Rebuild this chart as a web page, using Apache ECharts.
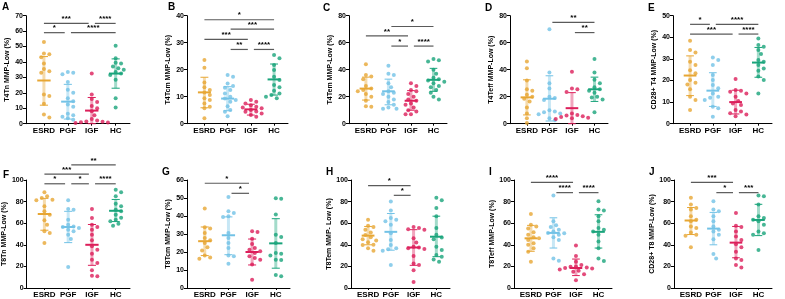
<!DOCTYPE html>
<html>
<head>
<meta charset="utf-8">
<script src="https://cdn.jsdelivr.net/npm/echarts@6/dist/echarts.min.js"></script>
<style>
html, body { margin: 0; padding: 0; background: #fff; }
#chart { width: 785px; height: 299px; }
</style>
</head>
<body>
<div id="chart"></div>
<script>
const groups = ['ESRD', 'PGF', 'IGF', 'HC'];
const colors = ['#E7A633', '#72C2E6', '#DC1E5A', '#19A47B'];

const letters = ['A', 'B', 'C', 'D', 'E', 'F', 'G', 'H', 'I', 'J'];
const yNames = ['T4Tn MMP-Low (%)', 'T4Tcm MMP-Low (%)', 'T4Tem MMP-Low (%)', 'T4Teff MMP-Low (%)', 'CD28+ T4 MMP-Low (%)',
  'T8Tn MMP-Low (%)', 'T8Tcm MMP-Low (%)', 'T8Tem MMP- Low (%)', 'T8Teff MMP-Low (%)', 'CD28+ T8 MMP-Low (%)'];
const yMax = [70, 40, 80, 80, 50, 100, 60, 100, 100, 100];
const yStep = [10, 10, 20, 20, 10, 20, 10, 20, 20, 20];

// points per group: ESRD, PGF, IGF, HC
const ptsA = [
  [53, 45.5, 45, 43, 39, 35.5, 34, 33, 19, 18, 13, 6, 4],
  [33.5, 33, 32, 27, 22, 20, 16.5, 14.5, 12.5, 11, 6.5, 5.5, 4.5, 3.5, 2.5],
  [32.5, 19, 16, 14, 11.5, 10, 8, 5.5, 3, 2, 1.5, 1.2, 1, 0.8, 0.5],
  [50.5, 42.5, 39.5, 39, 37, 36, 35, 33.5, 32.5, 31.5, 28.5, 16.5, 10.5]
];
const ptsB = [
  [23.6, 20.7, 15.3, 13.5, 12.5, 11.6, 10.6, 9.4, 8.8, 7.5, 6.3, 5.7, 2],
  [18, 17.4, 14.9, 14, 13.3, 12.5, 11.2, 10, 9.3, 8.8, 8.1, 6.5, 5.1, 4.4, 2.8],
  [8.8, 8.1, 7.5, 6.8, 6.3, 6, 5.7, 5.1, 4.5, 4.4, 3.8, 3.2, 2.6],
  [25.4, 24.2, 21.7, 19.9, 17.4, 16.2, 14.3, 13.5, 12.2, 11.2, 10.6, 10, 9.4]
];
const ptsC = [
  [44, 36, 35, 33, 28, 26, 25, 24, 22, 20, 17, 13, 12.5],
  [43, 37, 36, 30, 27, 24, 23, 22, 20, 18, 16, 14, 12, 11, 11],
  [30, 28, 25, 24, 22, 20, 18, 17, 15, 14, 12, 10, 9, 7, 7],
  [48, 47, 46, 40, 37, 34, 33, 32, 31, 30, 28, 27, 25, 23, 20, 18]
];
const ptsD = [
  [46, 41, 32, 25.5, 24.5, 21.5, 20, 18.5, 16.5, 12, 7.5, 4, 0.5],
  [70, 38, 30, 26, 20, 19, 17.5, 10, 9, 8.5, 7.5, 7, 4, 2.5],
  [38.5, 26, 25.5, 23.5, 7.5, 6.5, 6, 5.5, 5, 4.5, 4, 3.5],
  [48, 38, 32.5, 30, 27, 25.5, 24.5, 23, 20, 19.5, 18, 8.5]
];
const ptsE = [
  [38.4, 34.1, 33, 28.7, 27.2, 24.8, 23.3, 20.2, 19, 18.2, 15.9, 12.5, 11, 6.3],
  [30.7, 29.5, 27.2, 22.5, 20.2, 17.9, 16.4, 14, 12.5, 12, 11, 7.9, 7.1, 3.2],
  [20.7, 15.6, 15.3, 14.8, 14, 12.5, 10.5, 9.4, 8.6, 6.3, 5.6, 4.8, 4.3, 3.5],
  [39.5, 36.4, 35.6, 34.1, 32.3, 29.5, 28.7, 27.2, 25.6, 24.5, 21.8, 20.2, 14]
];
const ptsF = [
  [88.6, 84.9, 83.3, 81.8, 81.2, 75.6, 71, 67.9, 62.7, 58.6, 52.5, 50.9, 41.7],
  [81.2, 73.1, 72.5, 63.3, 58.6, 57, 56.5, 55.6, 54, 52.5, 49.4, 45.4, 19.4],
  [73.1, 64.8, 58.6, 56.5, 54, 49.4, 44.1, 38.6, 35.5, 31.8, 26.2, 23.1, 16.4, 11.4, 10.8],
  [91, 88.6, 84.9, 78, 75.6, 72.5, 71, 67.9, 65, 63.3, 61.7, 59.6, 57.7]
];
const ptsG = [
  [44.1, 33.7, 33, 30.6, 27.8, 26.5, 25, 22.6, 20.9, 18, 17, 16.3],
  [50.6, 42.6, 41.7, 39.8, 39.4, 30.6, 27.8, 25, 22.2, 18, 17.6, 13.5],
  [31.5, 31.1, 27.4, 24.4, 22.2, 21.3, 20.4, 19.4, 17.6, 16.7, 15.7, 13, 4.6],
  [49.8, 49.6, 40.9, 29.6, 28.3, 25, 19.4, 19, 18, 15.7, 15.6, 7.2, 6.5]
];
const ptsH = [
  [63.2, 57.6, 56.4, 53.9, 51.4, 49, 47, 45.2, 44, 42.4, 40, 39.9, 36.8, 34.6],
  [80.1, 71.7, 64.8, 63.2, 61.7, 58.6, 50.8, 44.5, 39.9, 36.8, 35.8, 34.6, 21.2],
  [56.4, 55.5, 54.5, 53.9, 46.1, 42.1, 38.3, 37.4, 36.8, 36, 29.6, 22.7, 21.2, 16.5, 5.6],
  [83.5, 81.3, 74.1, 66.4, 55.5, 49.2, 46.7, 45.2, 38.3, 35.2, 30.5, 29, 26.5, 24.3]
];
const ptsI = [
  [68.5, 58.6, 57, 55, 51.7, 49.2, 47, 46, 44.5, 41.4, 40, 36.8, 33.6, 24.3],
  [85.7, 61.7, 58, 56.4, 53.9, 52.3, 51, 50.8, 49.2, 47, 44.5, 27.4, 25.2],
  [39.3, 29.6, 24.3, 21.2, 20, 19.6, 19, 18.5, 18.1, 17.1, 15.9, 15, 12.8, 7.2],
  [80.4, 72.6, 71.7, 66.4, 61.7, 55.5, 53.9, 52.3, 49.2, 43, 36.8, 27.4, 24.9]
];
const ptsJ = [
  [83.5, 77.3, 74.1, 72.6, 66.4, 63.2, 61.7, 57, 55.5, 51.4, 49.2, 48.3, 37.7],
  [80.4, 72.6, 71, 66.4, 61.7, 57, 53.9, 52.3, 49.2, 45.2, 31.5, 27.4],
  [69.5, 57.6, 56.4, 52.3, 47.7, 44.5, 40.5, 37.7, 33.6, 27.4, 25.9, 21.2, 19],
  [85.7, 85, 77.3, 66.4, 64.8, 63.2, 61.7, 58.6, 52.3, 50.8, 49.2, 35.2]
];

// mean and SD range (low, high)
const meanA = [28, 14.3, 8.5, 32.5];   const sdA = [[12, 43.5], [3, 25.5], [0, 17], [23, 42]];
const meanB = [11.6, 9.3, 5.3, 16.4];  const sdB = [[5.9, 17.2], [4.8, 13.7], [3.2, 7.2], [10.6, 22.1]];
const meanC = [26, 24, 17, 32.5];      const sdC = [[17.5, 34.5], [14, 33], [10, 24.5], [24, 41]];
const meanD = [19.5, 18.5, 11.5, 25.5]; const sdD = [[6.5, 32.5], [2, 35.5], [0, 23], [16.5, 34.5]];
const meanE = [22.3, 15.3, 10, 28.3];  const sdE = [[13, 31.4], [8, 23.6], [4.5, 15.5], [21.5, 35.3]];
const meanF = [68.5, 56.5, 40, 71.5];  const sdF = [[53.5, 83], [42, 71], [21, 58.8], [61.5, 82]];
const meanG = [26, 29.3, 20, 24.8];    const sdG = [[18, 33.9], [18.5, 39.5], [12.8, 27.2], [11, 38.5]];
const meanH = [48.5, 52, 37.5, 47.5];  const sdH = [[40, 57], [35, 69], [21, 54], [29, 66.5]];
const meanI = [46, 51, 18.5, 52];      const sdI = [[34, 58], [37, 65], [11.5, 26.8], [37, 67.8]];
const meanJ = [62.5, 55, 42, 63];      const sdJ = [[49.5, 74.5], [40, 70], [28, 57], [48.5, 77.5]];

// significance: [from group, to group, y, stars]
const sigA = [[0, 1, 59, '*'], [1, 3, 59, '****'], [0, 2, 65, '***'], [2, 3, 65, '****']];
const sigB = [[0, 3, 38.5, '*'], [1, 3, 35, '***'], [0, 2, 31.2, '***'], [1, 2, 27.5, '**'], [2, 3, 27.5, '****']];
const sigC = [[1, 3, 72, '*'], [0, 2, 65, '**'], [1, 2, 57.5, '*'], [2, 3, 57.5, '****']];
const sigD = [[1, 3, 75, '**'], [2, 3, 67.5, '**']];
const sigE = [[0, 1, 46, '*'], [1, 3, 46, '****'], [0, 2, 41.5, '***'], [2, 3, 41.5, '****']];
const sigF = [[1, 3, 114, '**'], [0, 2, 105.5, '***'], [0, 1, 96.5, '*'], [1, 2, 96.5, '*'], [2, 3, 96.5, '****']];
const sigG = [[0, 2, 58.2, '*'], [1, 2, 52.6, '*']];
const sigH = [[0, 2, 94.7, '*'], [1, 2, 85.8, '*']];
const sigI = [[0, 2, 97.8, '****'], [1, 2, 88.3, '****'], [2, 3, 88.3, '****']];
const sigJ = [[0, 2, 97.8, '***'], [1, 2, 88.3, '*'], [2, 3, 88.3, '***']];

const allPts = [ptsA, ptsB, ptsC, ptsD, ptsE, ptsF, ptsG, ptsH, ptsI, ptsJ];
const allMean = [meanA, meanB, meanC, meanD, meanE, meanF, meanG, meanH, meanI, meanJ];
const allSd = [sdA, sdB, sdC, sdD, sdE, sdF, sdG, sdH, sdI, sdJ];
const allSig = [sigA, sigB, sigC, sigD, sigE, sigF, sigG, sigH, sigI, sigJ];

// layout (px)
const gridLeft = [26, 187, 349, 510, 673, 26, 187, 351, 514, 674];
const gridW = [104, 101, 98, 98, 99, 104, 103, 99, 98, 98];
const rowTop = [15.7, 180];
const gridH = 108;
const xMin = -0.75, xMax = 3.6;
const letterPos = [[2, 2], [168, 2], [323, 3], [485, 3], [648, 3], [3, 170], [162, 167], [326, 167], [489, 167], [649, 167]];

function rgba(hex, a) {
  const n = parseInt(hex.slice(1), 16);
  return 'rgba(' + (n >> 16) + ',' + ((n >> 8) & 255) + ',' + (n & 255) + ',' + a + ')';
}

// spread overlapping dots sideways (prism-like scatter layout)
function swarm(vals, pxPerUnit, catPx) {
  const d = 4.5;
  const placed = [];
  const out = new Array(vals.length);
  const order = vals.map((v, i) => i).sort((a, b) => vals[b] - vals[a]);
  for (const i of order) {
    const y = vals[i] * pxPerUnit;
    let x = 0;
    for (let s = 0; s < 30; s++) {
      const cand = s === 0 ? 0 : (s % 2 ? 1 : -1) * Math.ceil(s / 2) * d * 0.6;
      if (placed.every(p => (p.x - cand) ** 2 + (p.y - y) ** 2 >= d * d)) { x = cand; break; }
    }
    placed.push({ x: x, y: y });
    out[i] = x / catPx;
  }
  return out;
}

const chart = echarts.init(document.getElementById('chart'));
const font = 'Liberation Sans, Arial, sans-serif';

const grid = [], xAxis = [], yAxis = [], series = [], graphic = [];

for (let p = 0; p < 10; p++) {
  const top = rowTop[p < 5 ? 0 : 1];
  grid.push({ left: gridLeft[p], top: top, width: gridW[p], height: gridH });
  xAxis.push({
    gridIndex: p, type: 'value', min: xMin, max: xMax,
    splitLine: { show: false },
    axisLine: { show: true, onZero: false, lineStyle: { color: '#000', width: 1 } },
    axisTick: { show: true, customValues: [0, 1, 2, 3], length: 2, lineStyle: { color: '#000' } },
    axisLabel: {
      customValues: [0, 1, 2, 3], formatter: v => groups[Math.round(v)],
      fontSize: 8, fontWeight: 'bold', color: '#000', fontFamily: font, margin: 3
    }
  });
  yAxis.push({
    gridIndex: p, type: 'value', min: 0, max: yMax[p], interval: yStep[p],
    splitLine: { show: false },
    axisLine: { show: true, onZero: false, lineStyle: { color: '#000', width: 1 } },
    axisTick: { show: true, length: 3, lineStyle: { color: '#000' } },
    axisLabel: { fontSize: 7, fontWeight: 'bold', color: '#000', fontFamily: font, margin: 3 },
    name: yNames[p], nameLocation: 'middle', nameGap: 15,
    nameTextStyle: { fontSize: 7, fontWeight: 'bold', color: '#000', fontFamily: font }
  });

  const pxPerUnit = gridH / yMax[p];
  const catPx = gridW[p] / (xMax - xMin);

  allPts[p].forEach((vals, g) => {
    const off = swarm(vals, pxPerUnit, catPx);
    series.push({
      type: 'scatter', xAxisIndex: p, yAxisIndex: p, z: 2,
      symbol: 'circle', symbolSize: 4,
      itemStyle: { color: colors[g] },
      data: vals.map((v, i) => [g + off[i], v])
    });
  });

  // mean +/- SD bars
  series.push({
    type: 'custom', xAxisIndex: p, yAxisIndex: p, z: 3,
    data: allMean[p].map((m, g) => [g, m, allSd[p][g][0], allSd[p][g][1]]),
    encode: { x: 0, y: [1, 2, 3] },
    renderItem: function (params, api) {
      const g = api.value(0);
      const c = colors[g];
      const pm = api.coord([g, api.value(1)]);
      const pl = api.coord([g, api.value(2)]);
      const ph = api.coord([g, api.value(3)]);
      const w = api.size([1, 0])[0];
      return {
        type: 'group', children: [
          { type: 'line', shape: { x1: pm[0], y1: ph[1], x2: pm[0], y2: pl[1] }, style: { stroke: rgba(c, 0.4), lineWidth: 3 } },
          { type: 'line', shape: { x1: pm[0] - w * 0.17, y1: ph[1], x2: pm[0] + w * 0.17, y2: ph[1] }, style: { stroke: c, lineWidth: 1 } },
          { type: 'line', shape: { x1: pm[0] - w * 0.17, y1: pl[1], x2: pm[0] + w * 0.17, y2: pl[1] }, style: { stroke: c, lineWidth: 1 } },
          { type: 'line', shape: { x1: pm[0] - w * 0.28, y1: pm[1], x2: pm[0] + w * 0.28, y2: pm[1] }, style: { stroke: c, lineWidth: 2 } }
        ]
      };
    }
  });

  // significance brackets
  const sig = allSig[p];
  series.push({
    type: 'custom', xAxisIndex: p, yAxisIndex: p, z: 4,
    data: sig.map(s => [s[0] === 0 ? 0 : s[0] + 0.13, s[2], s[1] === 3 ? 3 : s[1] - 0.13]),
    encode: { x: [0, 2], y: 1 },
    renderItem: function (params, api) {
      const a = api.coord([api.value(0), api.value(1)]);
      const b = api.coord([api.value(2), api.value(1)]);
      return {
        type: 'group', children: [
          { type: 'line', shape: { x1: a[0], y1: a[1], x2: b[0], y2: b[1] }, style: { stroke: '#5a5a5a', lineWidth: 1.2 } },
          {
            type: 'text', x: (a[0] + b[0]) / 2, y: a[1] - 0.5,
            style: { text: sig[params.dataIndex][3], fill: '#000', font: 'bold 8px ' + font, align: 'center', verticalAlign: 'bottom' }
          }
        ]
      };
    }
  });

  graphic.push({
    type: 'text', left: letterPos[p][0], top: letterPos[p][1],
    style: { text: letters[p], fill: '#000', font: 'bold 10px ' + font }
  });
}

chart.setOption({
  animation: false,
  backgroundColor: '#fff',
  grid: grid, xAxis: xAxis, yAxis: yAxis, series: series, graphic: graphic
});
</script>
</body>
</html>
